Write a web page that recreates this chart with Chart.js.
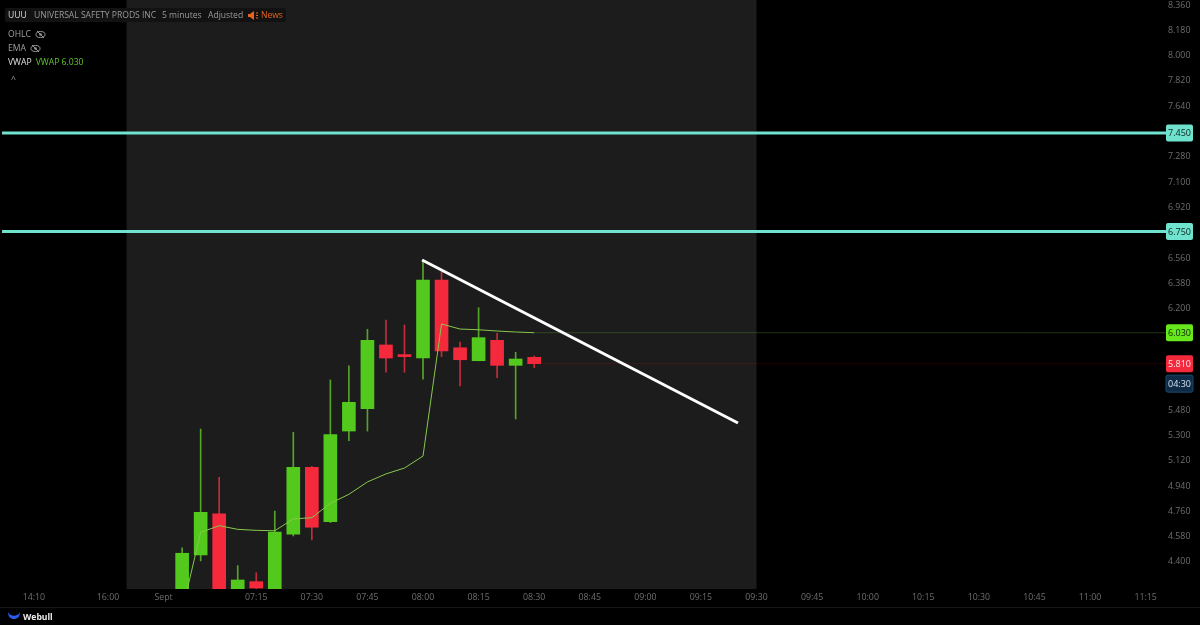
<!DOCTYPE html>
<html>
<head>
<meta charset="utf-8">
<title>UUU 5 minutes</title>
<script src="https://cdn.jsdelivr.net/npm/chart.js@4/dist/chart.umd.min.js"></script>
<style>
    html, body { margin: 0; padding: 0; background: #000; }
    body { width: 1200px; height: 625px; overflow: hidden; position: relative; font-family: "Open Sans", sans-serif; }
    canvas { position: absolute; left: 0; top: 0; }
    .bar { position: absolute; left: 5px; top: 8px; height: 14px; width: 281px; background: #121212; border-radius: 2px; font-size: 8.6px; color: #9a9a9a; white-space: nowrap; }
    .bar span { position: absolute; top: 0; line-height: 14px; letter-spacing: -0.03px; }
    .bar .sym { color: #d8d8d8; }
    .bar .news { color: #e8641e; }
    .bar svg { position: absolute; left: 243px; top: 3px; }
    .ind { position: absolute; left: 8px; font-size: 8.6px; color: #a0a0a0; display: flex; align-items: center; gap: 4px; white-space: nowrap; }
    .ind b { font-weight: 400; color: #e0e0e0; }
    .ind i { font-style: normal; color: #5fc32a; }
    .foot { position: absolute; left: 0; top: 607px; width: 1200px; height: 18px; border-top: 1px solid #161616; }
    .foot span { position: absolute; left: 23px; top: 3px; font-size: 8.6px; font-weight: 700; color: #eee; }
    .foot svg { position: absolute; left: 7px; top: 3px; }
</style>
</head>
<body>
<canvas id="chart" width="1200" height="625"></canvas>

<div class="bar">
    <span class="sym" style="left:3px">UUU</span>
    <span style="left:29px">UNIVERSAL SAFETY PRODS INC</span>
    <span style="left:157px">5 minutes</span>
    <span style="left:203px">Adjusted</span>
    <svg width="11" height="9" viewBox="0 0 11 9"><path d="M0 3h2l4-3v9L2 6H0z" fill="#e8641e"/><path d="M8 2h2M8 4.5h2M8 7h2" stroke="#e8641e"/></svg>
    <span class="news" style="left:256px">News</span>
</div>
<div class="ind" style="top:28px">OHLC <svg width="11" height="9" viewBox="0 0 11 9"><ellipse cx="5.5" cy="4.5" rx="4.5" ry="3" fill="none" stroke="#999"/><circle cx="5.5" cy="4.5" r="1.3" fill="#999"/><path d="M2 1l7 7" stroke="#999"/></svg></div>
<div class="ind" style="top:42px">EMA <svg width="11" height="9" viewBox="0 0 11 9"><ellipse cx="5.5" cy="4.5" rx="4.5" ry="3" fill="none" stroke="#999"/><circle cx="5.5" cy="4.5" r="1.3" fill="#999"/><path d="M2 1l7 7" stroke="#999"/></svg></div>
<div class="ind" style="top:56px"><b>VWAP</b> <i>VWAP 6.030</i></div>
<div class="ind" style="top:73px;left:11px">^</div>
<div class="foot">
    <svg width="14" height="9" viewBox="0 0 14 9"><path d="M1 1c2 5 10 5 12 0c0 5-3 7-6 7s-6-2-6-7z" fill="#2a5cf0"/></svg>
    <span>Webull</span>
</div>

<script>
'use strict';

// slot = number of 5 minute candles from 08:00
const slots = [-13, -12, -11, -10, -9, -8, -7, -6, -5, -4, -3, -2, -1, 0, 1, 2, 3, 4, 5, 6];
const opens = [4.15, 4.45, 4.743, 4.15, 4.26, 4.15, 4.597, 5.073, 4.686, 5.331, 5.49, 5.943, 5.874, 5.85, 6.405, 5.923, 5.831, 5.976, 5.798, 5.855];
const closes = [4.462, 4.753, 4.15, 4.272, 4.215, 4.613, 5.073, 4.647, 5.305, 5.535, 5.976, 5.85, 5.86, 6.405, 5.90, 5.838, 5.995, 5.798, 5.843, 5.81];
const highs = [4.501, 5.345, 5.002, 4.374, 4.324, 4.762, 5.322, 5.08, 5.694, 5.795, 6.054, 6.12, 6.085, 6.547, 6.464, 5.964, 6.208, 6.026, 5.891, 5.864];
const lows = [4.10, 4.407, 4.10, 4.10, 4.20, 4.10, 4.585, 4.556, 4.68, 5.262, 5.331, 5.749, 5.749, 5.699, 5.86, 5.651, 5.83, 5.71, 5.417, 5.781];
const vwap = [4.051, 4.611, 4.658, 4.632, 4.625, 4.622, 4.706, 4.715, 4.817, 4.881, 4.969, 5.026, 5.068, 5.153, 6.092, 6.056, 6.051, 6.042, 6.035, 6.03];

const timeTicks = [-21, -17, -14, -9, -6, -3, 0, 3, 6, 9, 12, 15, 18, 21, 24, 27, 30, 33, 36, 39];
const timeLabels = ['14:10', '16:00', 'Sept', '07:15', '07:30', '07:45', '08:00', '08:15', '08:30', '08:45', '09:00', '09:15', '09:30', '09:45', '10:00', '10:15', '10:30', '10:45', '11:00', '11:15'];
const priceTicks = [8.36, 8.18, 8.0, 7.82, 7.64, 7.28, 7.1, 6.92, 6.56, 6.38, 6.2, 5.48, 5.3, 5.12, 4.94, 4.76, 4.58, 4.4];

const levels = [7.45, 6.75];
const lastVwap = 6.03;
const lastPrice = 5.81;
const countdown = '04:30';
const trendSlots = [-0.05, 17];
const trendPrices = [6.547, 5.388];
const sessionSlots = [-16, 18];

const X_MIN = -22.83, X_MAX = 40.1, LINE_START = -22.72;
const GREEN = '#52c91c', RED = '#f5293c';
const TICK_FONT = { family: '"Open Sans", sans-serif', size: 8.8 };

const toPoints = (xs, ys) => xs.map((x, i) => ({ x: x, y: ys[i] }));
const candleColor = (i, up, down) => closes[i] >= opens[i] ? up : down;

function hLine(y, color, width, from, dash) {
    return {
        type: 'line',
        data: [{ x: from, y: y }, { x: X_MAX, y: y }],
        borderColor: color,
        borderWidth: width,
        borderDash: dash || [],
        pointRadius: 0,
        order: 1
    };
}

const sessionPlugin = {
    id: 'session',
    beforeDatasetsDraw(chart) {
        const { ctx, chartArea, scales } = chart;
        const x1 = scales.x.getPixelForValue(sessionSlots[0]);
        const x2 = scales.x.getPixelForValue(sessionSlots[1]);
        ctx.save();
        ctx.fillStyle = '#1c1c1c';
        ctx.fillRect(x1, chartArea.top, x2 - x1, chartArea.bottom - chartArea.top);
        ctx.restore();
    }
};

function pill(ctx, y, text, fill, color, stroke) {
    const x = 1166, w = 27, h = 17;
    ctx.beginPath();
    ctx.roundRect(x, y - h / 2, w, h, 2);
    ctx.fillStyle = fill;
    ctx.fill();
    if (stroke) {
        ctx.strokeStyle = stroke;
        ctx.stroke();
    }
    ctx.fillStyle = color;
    ctx.textAlign = 'center';
    ctx.textBaseline = 'middle';
    ctx.font = '9px "Open Sans", sans-serif';
    ctx.fillText(text, x + w / 2, y + 0.5);
}

const pillPlugin = {
    id: 'pills',
    afterDraw(chart) {
        const { ctx, scales } = chart;
        ctx.save();
        levels.forEach(v => pill(ctx, scales.y.getPixelForValue(v), v.toFixed(3), '#6fe3cd', '#0c2420'));
        pill(ctx, scales.y.getPixelForValue(lastVwap), lastVwap.toFixed(3), '#66e81c', '#0c2404');
        const py = scales.y.getPixelForValue(lastPrice);
        pill(ctx, py, lastPrice.toFixed(3), RED, '#ffe9ea');
        pill(ctx, py + 20, countdown, '#0e2a44', '#cfe2f2', '#1d4a6e');
        ctx.restore();
    }
};

new Chart(document.getElementById('chart'), {
    type: 'bar',
    data: {
        datasets: [
            {
                // bodies
                data: slots.map((s, i) => ({ x: s, y: [opens[i], closes[i]] })),
                backgroundColor: slots.map((s, i) => candleColor(i, GREEN, RED)),
                barThickness: 13,
                minBarLength: 2,
                grouped: false,
                order: 4
            },
            {
                // wicks
                data: slots.map((s, i) => ({ x: s, y: [lows[i], highs[i]] })),
                backgroundColor: slots.map((s, i) => candleColor(i, '#55a42a', '#c42c3c')),
                barThickness: 1,
                grouped: false,
                order: 5
            },
            {
                type: 'line',
                data: toPoints(slots, vwap),
                borderColor: '#86c94a',
                borderWidth: 1,
                pointRadius: 0,
                tension: 0,
                order: 3
            },
            hLine(lastVwap, 'rgba(110,170,60,0.3)', 1, 6),
            hLine(lastPrice, 'rgba(245,41,60,0.22)', 1, 6, [1, 1]),
            hLine(levels[0], '#6fe3cd', 3, LINE_START),
            hLine(levels[1], '#6fe3cd', 3, LINE_START),
            {
                type: 'line',
                data: toPoints(trendSlots, trendPrices),
                borderColor: '#ffffff',
                borderWidth: 3,
                pointRadius: 0,
                order: 0
            }
        ]
    },
    options: {
        responsive: false,
        animation: false,
        layout: { autoPadding: false, padding: { right: 8 } },
        plugins: {
            legend: { display: false },
            tooltip: { enabled: false }
        },
        scales: {
            x: {
                type: 'linear',
                offset: false,
                min: X_MIN,
                max: X_MAX,
                grid: { display: false, drawTicks: false },
                border: { display: false },
                afterBuildTicks: axis => { axis.ticks = timeTicks.map(v => ({ value: v })); },
                afterFit: axis => {
                    axis.height = 36;
                    axis.paddingLeft = 0;
                    axis.paddingRight = 0;
                },
                ticks: {
                    autoSkip: false,
                    maxRotation: 0,
                    padding: 3,
                    color: '#6e6e6e',
                    font: TICK_FONT,
                    callback: v => timeLabels[timeTicks.indexOf(v)]
                }
            },
            y: {
                position: 'right',
                min: 4.2079,
                max: 8.3955,
                grid: { display: false, drawTicks: false },
                border: { display: false },
                afterBuildTicks: axis => { axis.ticks = priceTicks.map(v => ({ value: v })); },
                afterFit: axis => {
                    axis.width = 26;
                    axis.paddingTop = 0;
                    axis.paddingBottom = 0;
                },
                ticks: {
                    autoSkip: false,
                    padding: 2,
                    color: '#6e6e6e',
                    font: TICK_FONT,
                    callback: v => v.toFixed(3)
                }
            }
        }
    },
    plugins: [sessionPlugin, pillPlugin]
});
</script>
</body>
</html>
